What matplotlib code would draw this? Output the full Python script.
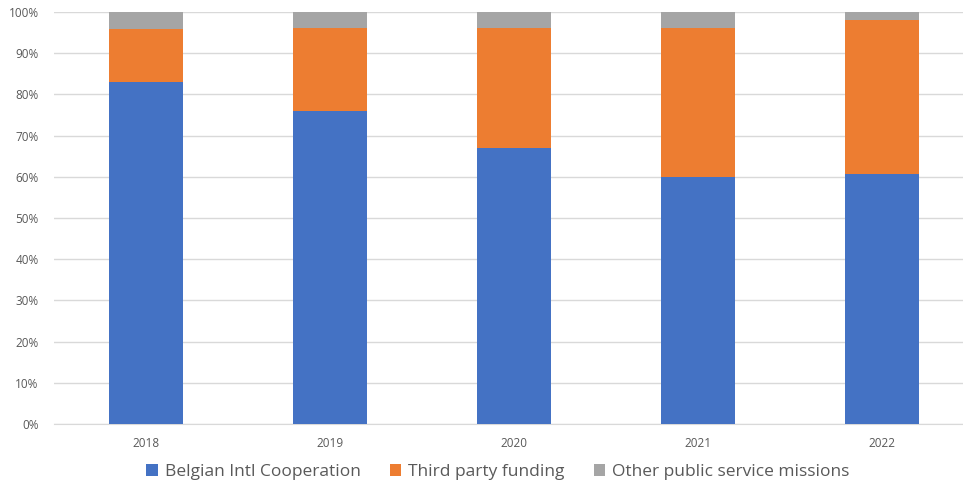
import matplotlib
matplotlib.use("Agg")
import matplotlib.pyplot as plt
from matplotlib.ticker import PercentFormatter
import numpy as np

years = ["2018", "2019", "2020", "2021", "2022"]
belgian = [83.0, 76.0, 67.0, 60.0, 60.7]
third_party = [12.9, 20.0, 29.0, 36.0, 37.3]
other = [4.1, 4.0, 4.0, 4.0, 2.0]
series_names = ["Belgian Intl Cooperation", "Third party funding", "Other public service missions"]
colors = ["#4472C4", "#ED7D31", "#A5A5A5"]

plt.rcParams['font.family'] = ['Open Sans', 'DejaVu Sans']

fig = plt.figure(figsize=(9.63, 4.86), dpi=100)
ax = fig.add_axes([54/963, 1-424/486, 1-54/963, (424-12)/486])

x = np.arange(len(years))
bottom = np.zeros(len(years))
handles = []
for vals, name, c in zip([belgian, third_party, other], series_names, colors):
    h = ax.bar(x, vals, width=0.4, bottom=bottom, color=c, label=name, zorder=3)
    handles.append(h)
    bottom = bottom + np.array(vals)

ax.set_ylim(0, 100)
ax.set_xlim(-0.5, (963-146)/184)
ax.set_yticks(np.arange(0, 101, 10))
ax.yaxis.set_major_formatter(PercentFormatter(decimals=0))
ax.set_xticks(x)
ax.set_xticklabels(years)
ax.grid(axis='y', color='#d9d9d9', linewidth=1, zorder=0)
for s in ['top', 'right', 'left']:
    ax.spines[s].set_visible(False)
ax.spines['bottom'].set_color('#d9d9d9')
ax.tick_params(axis='both', length=0, colors='#595959', labelsize=8.5)
ax.tick_params(axis='x', pad=9)
ax.tick_params(axis='y', pad=11)

fig.legend(handles=handles, labels=series_names, loc='center', bbox_to_anchor=(498/963, 1-472/486),
           ncol=3, frameon=False, fontsize=12.5, handlelength=0.65, handleheight=0.65,
           handletextpad=0.4, columnspacing=1.7, labelcolor='#595959')

fig.savefig("out.png", dpi=100)
